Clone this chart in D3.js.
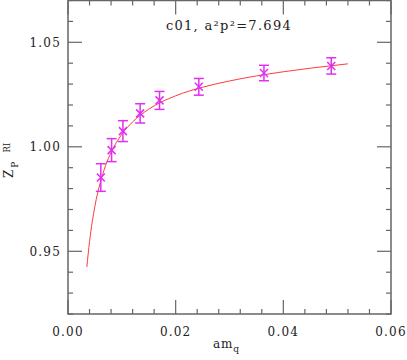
<!DOCTYPE html>
<html><head><meta charset="utf-8">
<script src="https://cdn.jsdelivr.net/npm/d3@7"></script>
<style>body{margin:0;background:#fff}svg{display:block}text{font-family:"DejaVu Serif",serif;fill:#222}</style>
</head><body>
<svg id="c" width="407" height="360"></svg>
<script>
const amq   = [0.0061, 0.0081, 0.0102, 0.0134, 0.0170, 0.0243, 0.0364, 0.0489];
const zp    = [0.9853, 0.9984, 1.0075, 1.0160, 1.0222, 1.0287, 1.0353, 1.0387];
const zpErr = [0.0066, 0.0055, 0.0050, 0.0046, 0.0043, 0.0040, 0.0037, 0.0039];
const fitX  = [0.0035,0.004,0.005,0.006,0.007,0.008,0.010,0.012,0.015,0.020,0.025,0.030,0.035,0.040,0.045,0.052];
const fitY  = [0.9425,0.9546,0.9716,0.9829,0.9911,0.9973,1.0060,1.0119,1.0180,1.0244,1.0285,1.0315,1.0339,1.0359,1.0376,1.0397];
const xTicks = [0.00, 0.02, 0.04, 0.06];
const yTicks = [0.95, 1.00, 1.05];
const title = "c01, a²p²=7.694";

const svg = d3.select("#c");
const L=68, R=391, T=0.5, B=314;
const x = d3.scaleLinear().domain([0,0.06]).range([L,R]);
const y = d3.scaleLinear().domain([0.92,1.07]).range([B,T]);
const frameCol="#666";

// ticks
const xMinor = d3.range(0,0.0601,0.004);
const yMinor = d3.range(0.92,1.0701,0.01);
const g = svg.append("g").attr("stroke",frameCol).attr("stroke-width",1.2);
xMinor.forEach(v=>{
  const major = xTicks.some(t=>Math.abs(t-v)<1e-6);
  const len = major?14:5;
  g.append("line").attr("x1",x(v)).attr("x2",x(v)).attr("y1",B).attr("y2",B-len);
  g.append("line").attr("x1",x(v)).attr("x2",x(v)).attr("y1",T).attr("y2",T+len);
});
yMinor.forEach(v=>{
  const major = yTicks.some(t=>Math.abs(t-v)<1e-6);
  const len = major?14:5;
  g.append("line").attr("y1",y(v)).attr("y2",y(v)).attr("x1",L).attr("x2",L+len);
  g.append("line").attr("y1",y(v)).attr("y2",y(v)).attr("x1",R).attr("x2",R-len);
});
svg.append("rect").attr("x",L).attr("y",T).attr("width",R-L).attr("height",B-T)
  .attr("fill","none").attr("stroke",frameCol).attr("stroke-width",1.5);

// tick labels
svg.selectAll(".xl").data(xTicks).join("text").attr("x",d=>x(d)).attr("y",336)
  .attr("text-anchor","middle").attr("font-size",12).attr("letter-spacing",1.2)
  .text(d=>d3.format(".2f")(d));
svg.selectAll(".yl").data(yTicks).join("text").attr("x",61).attr("y",d=>y(d)+4.5)
  .attr("text-anchor","end").attr("font-size",12).attr("letter-spacing",1.2)
  .text(d=>d3.format(".2f")(d));

// axis labels
const xl = svg.append("text").attr("x",213).attr("y",348).attr("font-size",12).attr("letter-spacing",0.8);
xl.append("tspan").text("am");
xl.append("tspan").attr("font-size",9).attr("dy",4).text("q");
const yl = svg.append("text").attr("transform","translate(13,178) rotate(-90)").attr("font-size",12);
yl.append("tspan").text("Z");
yl.append("tspan").attr("font-size",9).attr("dx",2).attr("dy",5).text("P");
yl.append("tspan").attr("font-size",8.5).attr("dx",9).attr("dy",-8).text("RI");

// title
svg.append("text").attr("x",229).attr("y",30).attr("text-anchor","middle")
  .attr("font-size",13).attr("letter-spacing",1.3).text(title);

// fit curve
const line = d3.line().x(d=>x(d[0])).y(d=>y(d[1])).curve(d3.curveMonotoneX);
svg.append("path").datum(fitX.map((v,i)=>[v,fitY[i]])).attr("d",line)
  .attr("fill","none").attr("stroke","#ff3b3b").attr("stroke-width",1);

// data
const data = amq.map((v,i)=>({x:v,y:zp[i],e:zpErr[i]}));
const pts = svg.append("g").attr("stroke","#e030f0").attr("stroke-width",1.5).attr("fill","none");
data.forEach(d=>{
  const cx=x(d.x), cy=y(d.y), yt=y(d.y+d.e), yb=y(d.y-d.e);
  pts.append("line").attr("x1",cx).attr("x2",cx).attr("y1",yt).attr("y2",yb);
  pts.append("line").attr("x1",cx-5).attr("x2",cx+5).attr("y1",yt).attr("y2",yt);
  pts.append("line").attr("x1",cx-5).attr("x2",cx+5).attr("y1",yb).attr("y2",yb);
  const s=4;
  pts.append("line").attr("x1",cx-s).attr("x2",cx+s).attr("y1",cy-s).attr("y2",cy+s);
  pts.append("line").attr("x1",cx-s).attr("x2",cx+s).attr("y1",cy+s).attr("y2",cy-s);
});
</script>
</body></html>
